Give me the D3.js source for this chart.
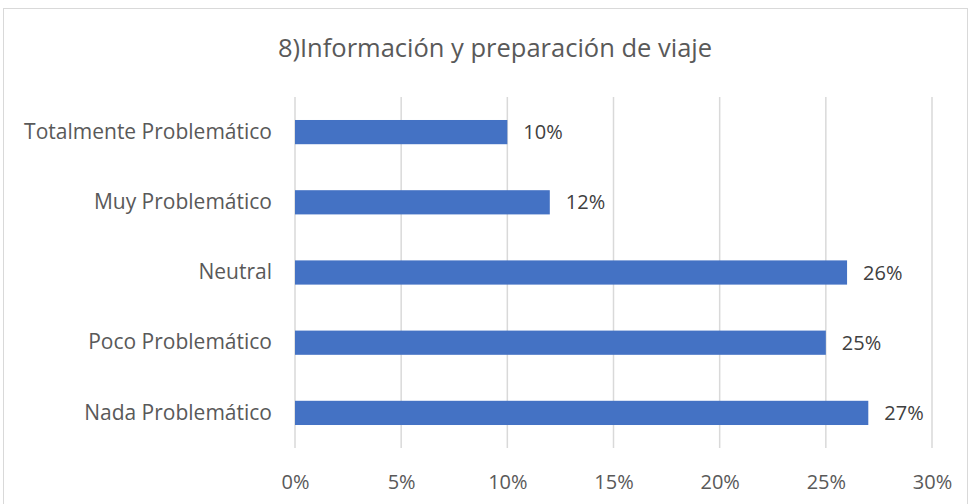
<!DOCTYPE html>
<html><head><meta charset="utf-8">
<script src="https://cdn.jsdelivr.net/npm/d3@7"></script>
<style>body{margin:0;background:#fff;}text{font-family:"Open Sans",sans-serif;}</style>
</head><body>
<svg id="c" width="971" height="504"></svg>
<script>
const categories = ["Totalmente Problemático","Muy Problemático","Neutral","Poco Problemático","Nada Problemático"];
const values = [10, 12, 26, 25, 27];
const valueLabels = ["10%","12%","26%","25%","27%"];
const ticks = [0,5,10,15,20,25,30];
const title = "8)Información y preparación de viaje";

const svg = d3.select("#c");
svg.append("rect").attr("x",3.5).attr("y",8.5).attr("width",964).attr("height",500)
  .attr("fill","#fff").attr("stroke","#d9d9d9");

const x = d3.scaleLinear().domain([0,30]).range([295,932]);
const y = d3.scaleBand().domain(categories).range([97,448]).paddingInner(0.655).paddingOuter(0.3275);

svg.append("text").attr("x",495).attr("y",57).attr("text-anchor","middle")
  .attr("font-size",25.5).attr("fill","#595959").text(title);

const xAxis = d3.axisBottom(x).tickValues(ticks).tickFormat(d=>d+"%").tickSize(0);
const gx = svg.append("g").attr("transform","translate(0,448)").call(xAxis);
gx.select(".domain").remove();
gx.selectAll("text").attr("font-size",20).attr("fill","#595959").attr("dy",0).attr("y",41).attr("font-family","Open Sans");

svg.append("g").selectAll("line").data(ticks).join("line")
  .attr("x1",d=>x(d)).attr("x2",d=>x(d)).attr("y1",97).attr("y2",448)
  .attr("stroke","#d9d9d9").attr("stroke-width",1.5);

svg.append("g").selectAll("rect").data(values).join("rect")
  .attr("x",x(0)).attr("y",(d,i)=>y(categories[i])).attr("width",d=>x(d)-x(0))
  .attr("height",y.bandwidth()).attr("fill","#4472C4");

const yAxis = d3.axisLeft(y).tickSize(0).tickPadding(0);
const gy = svg.append("g").attr("transform","translate(272,0)").call(yAxis);
gy.select(".domain").remove();
gy.selectAll("text").attr("font-size",21).attr("fill","#595959").attr("font-family","Open Sans");

svg.append("g").selectAll("text").data(values).join("text")
  .attr("x",d=>x(d)+16).attr("y",(d,i)=>y(categories[i])+y.bandwidth()/2).attr("dy","0.35em")
  .attr("font-size",20).attr("fill","#404040").text((d,i)=>valueLabels[i]);
</script>
</body></html>
